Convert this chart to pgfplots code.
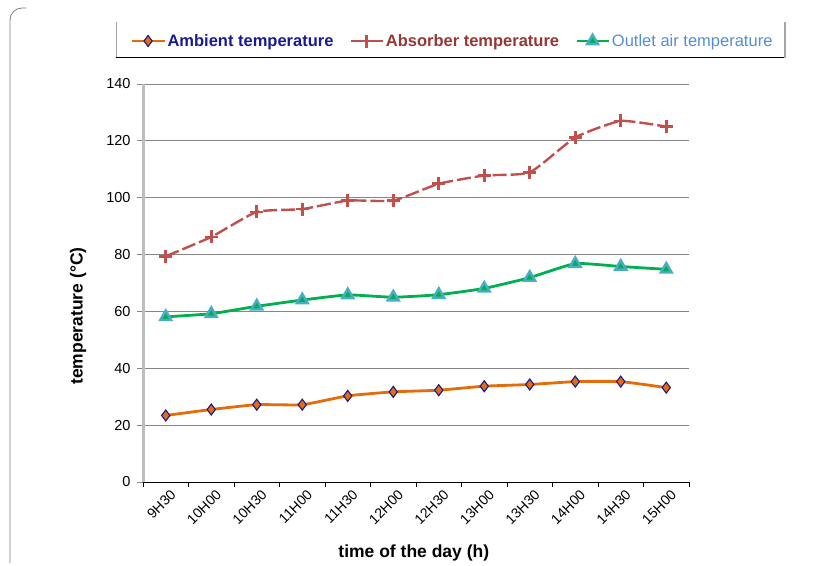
\documentclass[border=0pt]{standalone}
\usepackage{pgfplots}
\pgfplotsset{compat=1.18}
\usepackage{fontspec}
\setmainfont{Liberation Sans}
\definecolor{ambline}{HTML}{E46C0A}
\definecolor{ambedge}{HTML}{1A1A8C}
\definecolor{absline}{HTML}{C0504D}
\definecolor{abstext}{HTML}{953735}
\definecolor{outline}{HTML}{00B050}
\definecolor{outmark}{HTML}{4BACC6}
\definecolor{outtext}{HTML}{558ED5}
\definecolor{gridc}{HTML}{868686}
\definecolor{yaxc}{HTML}{BEBEBE}
\begin{document}
\begin{tikzpicture}
\useasboundingbox (0pt,0pt) rectangle (838pt,565pt);
% outer chart frame (left edge)
\draw[gray, line width=0.8pt] (10pt,2pt) -- (10pt,545pt) arc[start angle=180,end angle=90,radius=12pt] -- (26pt,557pt);
% legend frame
\draw[gray!70, line width=1pt] (116pt,543pt) -- (116pt,507pt);
\draw[black, line width=1pt] (116pt,507pt) -- (785pt,507pt);
\draw[gray!70, line width=2pt] (785pt,507pt) -- (785pt,543pt);
\begin{axis}[
  at={(143pt,83pt)}, anchor=south west,
  scale only axis, width=546pt, height=398pt,
  xmin=-0.5, xmax=11.5, ymin=0, ymax=140,
  axis x line*=bottom, axis y line*=left,
  axis line style={-},
  x axis line style={black, line width=1pt},
  y axis line style={yaxc, line width=3pt},
  xtick={0,...,11},
  xticklabels={9H30,10H00,10H30,11H00,11H30,12H00,12H30,13H00,13H30,14H00,14H30,15H00},
  major x tick style={draw=none},
  minor xtick={-0.5,0.5,...,11.5},
  minor x tick style={black, line width=0.8pt},
  minor tick length=5pt,
  tick align=outside,
  ytick={0,20,...,140},
  major tick length=6pt,
  y tick style={gridc, line width=0.8pt},
  ymajorgrids, grid style={gridc, line width=0.8pt},
  /pgf/number format/assume math mode=true,
  yticklabel style={font=\fontsize{14.5}{16}\selectfont, xshift=-3pt},
  xticklabel style={font=\fontsize{14}{16}\selectfont, anchor=east, xshift=10pt, yshift=-2pt, rotate=45},
  xlabel={\bfseries time of the day (h)},
  ylabel={\bfseries temperature (°C)},
  xlabel style={font=\fontsize{17.5}{19}\selectfont, at={(axis description cs:0.496,-0.178)}, anchor=center},
  ylabel style={font=\fontsize{17.5}{19}\selectfont, at={(axis description cs:-0.119,0.417)}, anchor=center},
  legend columns=3,
  legend style={draw=none, fill=none, at={(axis description cs:0.567,1.108)}, anchor=center,
    font=\fontsize{16.5}{18}\selectfont,
    /tikz/every even column/.append style={column sep=14pt}},
  legend cell align=left,
  legend image code/.code={\draw[mark repeat=2,mark phase=2] plot coordinates {(0pt,0pt) (16pt,0pt) (32pt,0pt)};},
]
\addplot[ambline, line width=2.8pt, smooth, tension=0.3, mark=diamond*, mark size=5.5pt,
  mark options={solid, fill=ambline, draw=ambedge, line width=1.1pt}]
  coordinates {(0,23.4) (1,25.5) (2,27.2) (3,27.2) (4,30.3) (5,31.7) (6,32.3) (7,33.7) (8,34.3) (9,35.3) (10,35.3) (11,33.2)};
\addlegendentry{\textcolor{ambedge}{\bfseries Ambient temperature}}
\addplot[absline, line width=2.4pt, smooth, tension=0.3, dash pattern=on 14pt off 4pt, mark=+, mark size=6.5pt,
  mark options={solid, line width=2.6pt, draw=absline}]
  coordinates {(0,79.4) (1,86.2) (2,95) (3,96) (4,99) (5,99) (6,104.9) (7,107.8) (8,108.9) (9,121.2) (10,127) (11,125)};
\addlegendentry{\textcolor{abstext}{\bfseries Absorber temperature}}
\addplot[outline, line width=2.8pt, smooth, tension=0.3, mark=triangle*, mark size=6.3pt,
  mark options={solid, fill=outline, draw=outmark, line width=2.4pt}]
  coordinates {(0,58.1) (1,59.2) (2,61.8) (3,64) (4,65.8) (5,65) (6,65.9) (7,68.1) (8,71.9) (9,76.8) (10,75.8) (11,74.8)};
\addlegendentry{\textcolor{outtext}{Outlet air temperature}}
\end{axis}
\end{tikzpicture}
\end{document}
